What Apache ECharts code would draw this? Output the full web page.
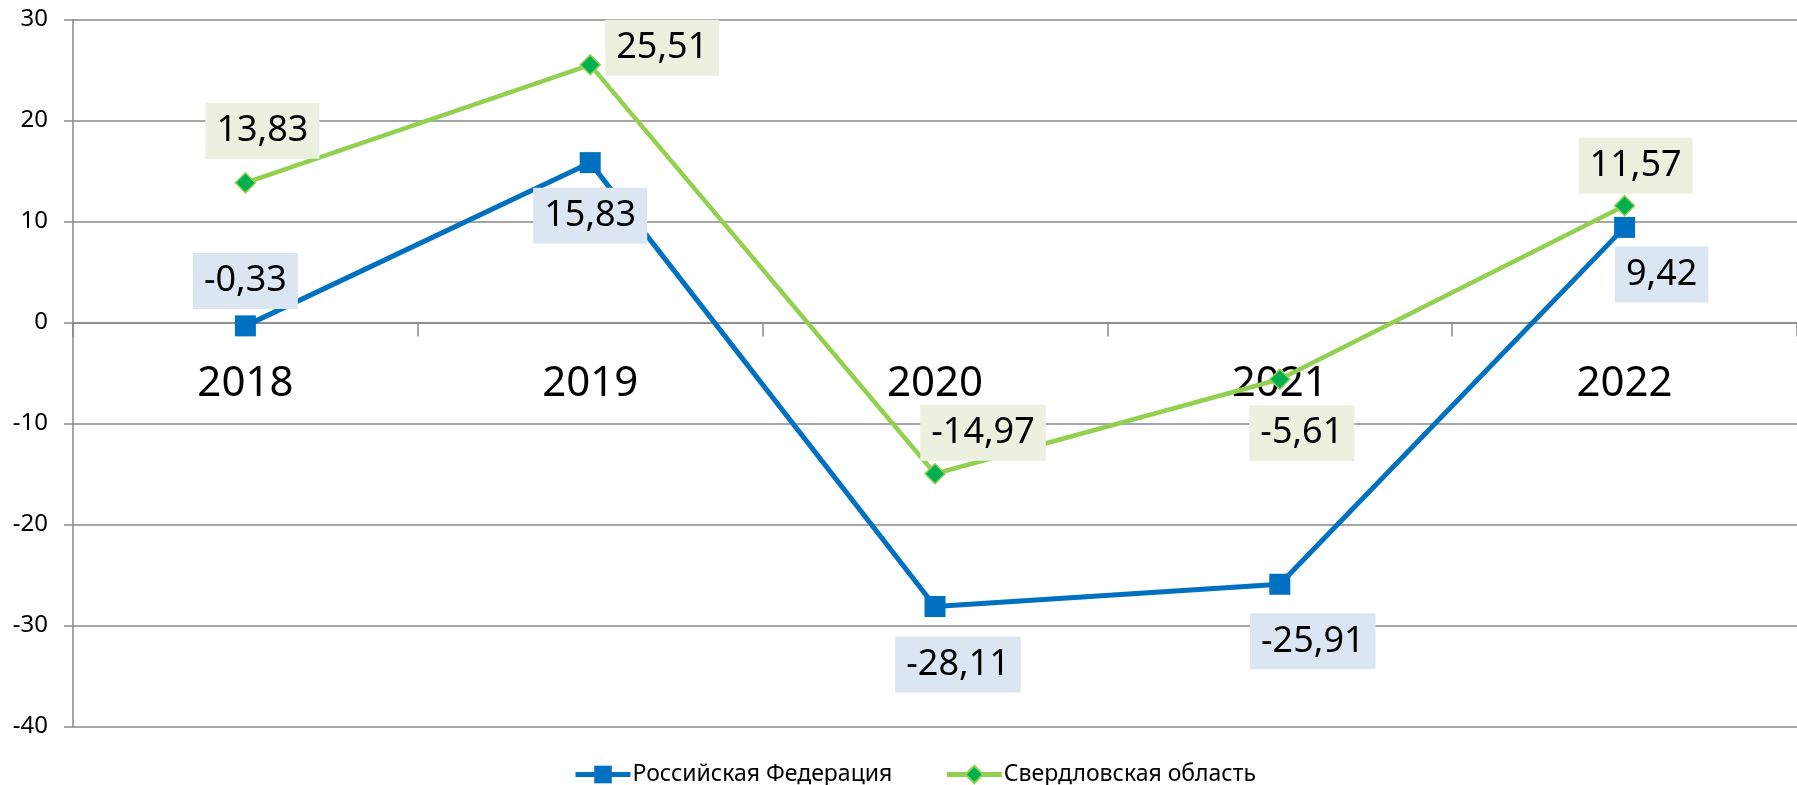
<!DOCTYPE html>
<html>
<head>
<meta charset="utf-8">
<script src="https://cdn.jsdelivr.net/npm/echarts@6/dist/echarts.min.js"></script>
<style>
html,body{margin:0;padding:0;background:#fff;}
#chart{width:1797px;height:785px;}
</style>
</head>
<body>
<div id="chart"></div>
<script>
// ---- data ----
const categories = ['2018', '2019', '2020', '2021', '2022'];
const seriesNames = ['Российская Федерация', 'Свердловская область'];
const rfValues = [-0.33, 15.83, -28.11, -25.91, 9.42];
const sverdValues = [13.83, 25.51, -14.97, -5.61, 11.57];
const yTicks = { min: -40, max: 30, interval: 10 };

// ---- label placement (pixel offsets from the point, layout only) ----
const rfLabelOffsets = [[0, -45], [0, 53], [23, 58], [33, 57], [37, 47]];
const sverdLabelOffsets = [[17, -52], [72, -17], [48, -41], [22, 54], [11, -40]];

const GRID_TOP = 19.5, GRID_BOTTOM = 58.4, H = 785;
const plotH = H - GRID_TOP - GRID_BOTTOM;
// distance of the zero line above the grid bottom (so the category axis sits on zero)
const zeroFromBottom = plotH * (0 - yTicks.min) / (yTicks.max - yTicks.min);

const fmt = v => v.toFixed(2).replace('.', ',');
const labelBase = (bg) => ({
  show: true,
  position: 'inside',
  formatter: p => fmt(p.value),
  fontFamily: 'Noto Sans',
  fontSize: 36,
  color: '#000',
  backgroundColor: bg,
  padding: [4, 11, 2, 11],
  lineHeight: 50
});
const withOffsets = (vals, offs) => vals.map((v, i) => ({ value: v, label: { offset: offs[i] } }));

const chart = echarts.init(document.getElementById('chart'), null, { renderer: 'canvas' });
chart.setOption({
  animation: false,
  backgroundColor: '#fff',
  grid: { left: 73, right: 0, top: GRID_TOP, bottom: GRID_BOTTOM, containLabel: false, outerBoundsMode: 'none' },
  legend: {
    top: 758,
    left: 568,
    itemWidth: 55,
    itemHeight: 22,
    itemGap: 52,
    lineStyle: { width: 5 },
    textStyle: { fontFamily: 'Noto Sans', fontSize: 23, color: '#000', padding: [0, 0, 0, -3] },
    data: seriesNames
  },
  xAxis: {
    type: 'category',
    data: categories,
    boundaryGap: true,
    position: 'bottom',
    offset: -zeroFromBottom,
    axisLine: { onZero: false, lineStyle: { color: '#898989', width: 1.5 } },
    axisTick: { show: true, length: 14, lineStyle: { color: '#898989', width: 1.5 } },
    axisLabel: { margin: 40, fontFamily: 'Noto Sans', fontSize: 42, color: '#000' },
    splitLine: { show: false }
  },
  yAxis: {
    type: 'value',
    min: yTicks.min,
    max: yTicks.max,
    interval: yTicks.interval,
    axisLine: { show: true, lineStyle: { color: '#898989', width: 1.5 } },
    axisTick: { show: true, length: 9, lineStyle: { color: '#898989', width: 1.5 } },
    axisLabel: { margin: 25, fontFamily: 'Noto Sans', fontSize: 24, color: '#000' },
    splitLine: { show: true, lineStyle: { color: '#898989', width: 1.5 } }
  },
  series: [
    {
      name: seriesNames[0],
      type: 'line',
      data: withOffsets(rfValues, rfLabelOffsets),
      symbol: 'rect',
      symbolSize: 21,
      lineStyle: { color: '#0070C0', width: 5 },
      itemStyle: { color: '#0070C0' },
      label: labelBase('#DCE6F2'),
      z: 3
    },
    {
      name: seriesNames[1],
      type: 'line',
      data: withOffsets(sverdValues, sverdLabelOffsets),
      symbol: 'diamond',
      symbolSize: 20,
      lineStyle: { color: '#92D050', width: 4.5 },
      itemStyle: { color: '#00B050', borderColor: '#92D050', borderWidth: 1.5 },
      label: labelBase('#EBF1DE'),
      z: 2
    }
  ]
});
</script>
</body>
</html>
